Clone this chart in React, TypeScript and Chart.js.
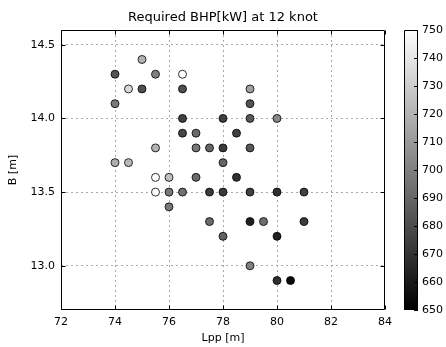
import React, { useEffect, useRef } from "react";
import { Chart, registerables } from "chart.js";

Chart.register(...registerables);

const lpp = [75, 74, 75.5, 76.5, 74.5, 75, 76.5, 74, 76.5, 78, 79, 79, 79, 80, 76.5, 77, 78.5, 75.5, 77, 77.5, 78, 79, 74, 74.5, 78, 75.5, 76, 77, 78.5, 75.5, 76, 76.5, 77.5, 78, 79, 80, 81, 76, 77.5, 79, 79.5, 81, 78, 80, 79, 80, 80.5];
const breadth = [14.4, 14.3, 14.3, 14.3, 14.2, 14.2, 14.2, 14.1, 14.0, 14.0, 14.2, 14.1, 14.0, 14.0, 13.9, 13.9, 13.9, 13.8, 13.8, 13.8, 13.8, 13.8, 13.7, 13.7, 13.7, 13.6, 13.6, 13.6, 13.6, 13.5, 13.5, 13.5, 13.5, 13.5, 13.5, 13.5, 13.5, 13.4, 13.3, 13.3, 13.3, 13.3, 13.2, 13.2, 13.0, 12.9, 12.9];
const bhp = [720, 683, 700, 750, 735, 681, 681, 697, 675, 675, 713, 683, 685, 703, 677, 692, 675, 720, 697, 690, 673, 685, 718, 722, 690, 750, 725, 692, 669, 750, 697, 694, 673, 673, 675, 669, 675, 697, 692, 662, 694, 673, 688, 662, 700, 669, 654];

const xTicks = [72, 74, 76, 78, 80, 82, 84];
const yTicks = [13.0, 13.5, 14.0, 14.5];
const cbTicks = [650, 660, 670, 680, 690, 700, 710, 720, 730, 740, 750];
const cbMin = 650;
const cbMax = 750;

const FONT = "'DejaVu Sans', sans-serif";

function grayFor(v: number): string {
  const t = Math.max(0, Math.min(1, (v - cbMin) / (cbMax - cbMin)));
  const g = Math.round(t * 255);
  return `rgb(${g},${g},${g})`;
}

function zeroPad(s: any) {
  s.paddingLeft = 0;
  s.paddingRight = 0;
  s.paddingTop = 0;
  s.paddingBottom = 0;
}

const framePlugin = {
  id: "framePlugin",
  afterDraw(chart: any) {
    const ctx = chart.ctx;
    const ca = chart.chartArea;
    const L = Math.round(ca.left) + 0.5;
    const R = Math.round(ca.right) - 0.5;
    const T = Math.round(ca.top) + 0.5;
    const B = Math.round(ca.bottom) - 0.5;
    const xs = chart.scales.x;
    const ys = chart.scales.y;
    const cb = chart.scales.cb;
    ctx.save();
    ctx.setLineDash([]);
    ctx.globalAlpha = 1;
    ctx.strokeStyle = "#000";
    ctx.lineWidth = 1;
    ctx.beginPath();
    ctx.moveTo(L, T);
    ctx.lineTo(R, T);
    ctx.lineTo(R, B);
    ctx.lineTo(L, B);
    ctx.closePath();
    ctx.stroke();
    ctx.beginPath();
    const tl = 4;
    xTicks.forEach((v) => {
      const px = Math.round(xs.getPixelForValue(v)) + 0.5;
      ctx.moveTo(px, B);
      ctx.lineTo(px, B - tl);
      ctx.moveTo(px, T);
      ctx.lineTo(px, T + tl);
    });
    yTicks.forEach((v) => {
      const py = Math.round(ys.getPixelForValue(v)) + 0.5;
      ctx.moveTo(L, py);
      ctx.lineTo(L + tl, py);
      ctx.moveTo(R, py);
      ctx.lineTo(R - tl, py);
    });
    ctx.stroke();

    // colorbar
    const cbTop = Math.round(cb.getPixelForValue(cbMax));
    const cbBottom = Math.round(cb.getPixelForValue(cbMin));
    const cbLeft = 404;
    const cbRight = 418;
    const grad = ctx.createLinearGradient(0, cbBottom, 0, cbTop);
    grad.addColorStop(0, grayFor(cbMin));
    grad.addColorStop(1, grayFor(cbMax));
    ctx.fillStyle = grad;
    ctx.fillRect(cbLeft, cbTop, cbRight - cbLeft, cbBottom - cbTop);
    ctx.beginPath();
    ctx.moveTo(cbLeft + 0.5, cbTop + 0.5);
    ctx.lineTo(cbRight - 0.5, cbTop + 0.5);
    ctx.lineTo(cbRight - 0.5, cbBottom - 0.5);
    ctx.lineTo(cbLeft + 0.5, cbBottom - 0.5);
    ctx.closePath();
    cbTicks.forEach((v) => {
      const py = Math.round(cb.getPixelForValue(v)) + 0.5;
      ctx.moveTo(cbRight, py);
      ctx.lineTo(cbRight - tl, py);
    });
    ctx.strokeStyle = "#000";
    ctx.stroke();
    ctx.restore();
  },
};

export default function App() {
  const ref = useRef<HTMLCanvasElement | null>(null);
  useEffect(() => {
    if (!ref.current) return;
    const points = lpp.map((x, i) => ({ x, y: breadth[i] }));
    const gridColor = (c: any) => {
      const v = c.tick ? c.tick.value : null;
      if (v === 72 || v === 84) return "rgba(0,0,0,0)";
      return "#aaaaaa";
    };
    const chart = new Chart(ref.current, {
      type: "scatter",
      data: {
        datasets: [
          {
            data: points,
            pointRadius: 4,
            pointHoverRadius: 4,
            pointBorderWidth: 1,
            pointBorderColor: "rgba(0,0,0,0.8)",
            pointBackgroundColor: bhp.map(grayFor),
            yAxisID: "y",
          },
        ],
      },
      options: {
        responsive: false,
        animation: false,
        devicePixelRatio: 1,
        layout: { padding: 0 },
        plugins: {
          legend: { display: false },
          tooltip: { enabled: false },
          title: {
            display: true,
            text: "Required BHP[kW] at 12 knot",
            color: "#000",
            font: { family: FONT, size: 13, weight: "normal", lineHeight: 1.2 },
            padding: { top: 10.2, bottom: 4.2 },
          },
        },
        scales: {
          x: {
            type: "linear",
            min: 72,
            max: 84,
            afterBuildTicks: (s: any) => {
              s.ticks = xTicks.map((v) => ({ value: v }));
            },
            afterFit: (s: any) => {
              s.height = 37;
              zeroPad(s);
            },
            grid: { color: gridColor, lineWidth: 1, drawTicks: false },
            border: { display: false, dash: [2, 3] },
            ticks: {
              color: "#000",
              padding: 6,
              font: { family: FONT, size: 11 },
              maxRotation: 0,
              callback: (v: any) => String(v),
            },
            title: {
              display: true,
              text: "Lpp [m]",
              color: "#000",
              font: { family: FONT, size: 11, lineHeight: 1.2 },
              padding: { top: 0, bottom: 2.4 },
            },
          },
          y: {
            type: "linear",
            position: "left",
            min: 12.7,
            max: 14.6,
            afterBuildTicks: (s: any) => {
              s.ticks = yTicks.map((v) => ({ value: v }));
            },
            afterFit: (s: any) => {
              s.width = 61;
              zeroPad(s);
            },
            grid: { color: "#aaaaaa", lineWidth: 1, drawTicks: false },
            border: { display: false, dash: [2, 3] },
            ticks: {
              color: "#000",
              padding: 6,
              font: { family: FONT, size: 11 },
              callback: (v: any) => Number(v).toFixed(1),
            },
            title: {
              display: true,
              text: "B [m]",
              color: "#000",
              font: { family: FONT, size: 11, lineHeight: 1.2 },
              padding: { top: 6.4, bottom: 0 },
            },
          },
          cb: {
            type: "linear",
            position: "right",
            min: cbMin,
            max: cbMax,
            afterBuildTicks: (s: any) => {
              s.ticks = cbTicks.map((v) => ({ value: v }));
            },
            afterFit: (s: any) => {
              s.width = 61;
              zeroPad(s);
            },
            grid: { display: false, drawTicks: false },
            border: { display: false },
            ticks: {
              color: "#000",
              padding: 37,
              font: { family: FONT, size: 11 },
              callback: (v: any) => String(v),
            },
          },
        },
      },
      plugins: [framePlugin],
    });
    return () => chart.destroy();
  }, []);
  return (
    <div style={{ position: "absolute", left: 0, top: 0, width: 446, height: 347, background: "#fff" }}>
      <canvas ref={ref} width={446} height={347} style={{ width: 446, height: 347 }} />
    </div>
  );
}
